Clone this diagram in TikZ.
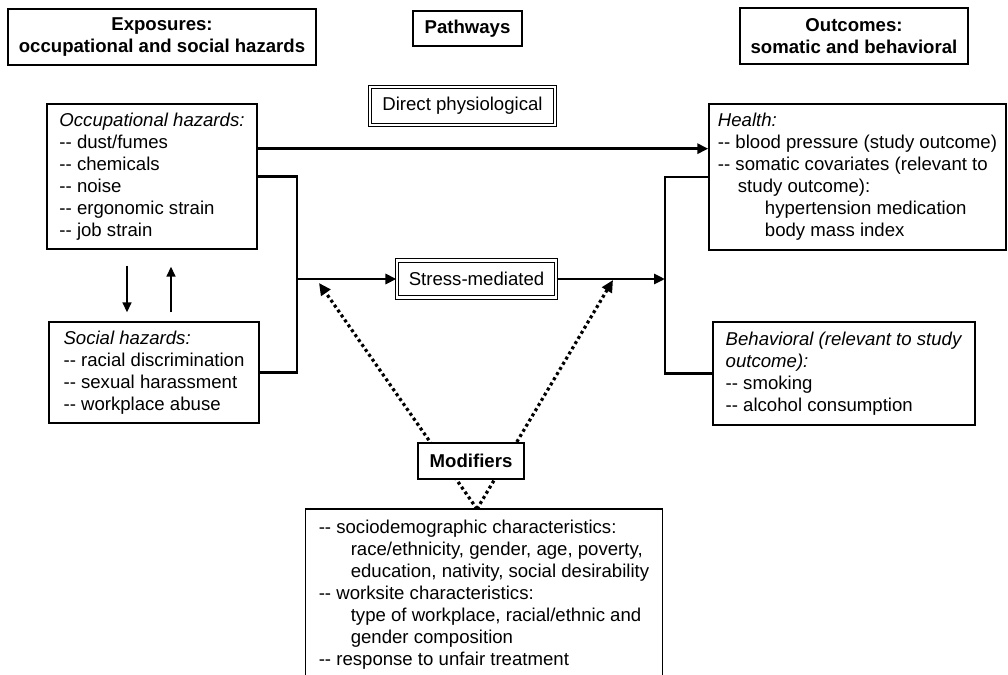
\documentclass[tikz,border=0pt]{standalone}
\usepackage{fontspec}
\setmainfont{Liberation Sans}
\usepackage{tikz}
\usetikzlibrary{arrows.meta,calc}
\definecolor{ink}{HTML}{000000}
\definecolor{paper}{HTML}{FFFFFF}
\newcommand{\boxfont}{\fontsize{9.3}{11}\selectfont}
\newcommand{\itm}{-{}-\ }
\tikzset{
  headbox/.style={draw=ink, fill=paper, line width=0.7pt, align=center, inner sep=0pt,
                  font=\boxfont\bfseries},
  listbox/.style={draw=ink, fill=paper, line width=0.7pt, align=left, inner sep=0pt,
                  font=\boxfont},
  pathbox/.style={draw=ink, double=paper, double distance=1.1pt, line width=0.55pt,
                  inner sep=0pt, font=\boxfont},
  link/.style={draw=ink, line width=1.4pt},
  arrow/.style={link, -{Triangle[length=5.5pt,width=5pt]}},
  exchange/.style={draw=ink, line width=0.8pt, -{Triangle[length=5pt,width=4.5pt]}},
  dotarrow/.style={draw=ink, line width=1.6pt, dash pattern=on 1.5pt off 1.5pt,
                   -{Triangle[length=6pt,width=5.5pt]}}
}

\begin{document}
\begin{tikzpicture}[x=0.5pt,y=-0.5pt]
  \useasboundingbox (0,0) rectangle (1008,675);
  % column headings
  \node[headbox, minimum width=154pt, minimum height=28pt] (expo) at (162,37) {Exposures:\\occupational and social hazards};
  \node[headbox, minimum width=54.5pt, minimum height=17.5pt] (paths) at (467.5,28.5) {Pathways};
  \node[headbox, minimum width=114pt, minimum height=28pt] (outc) at (854,36) {Outcomes:\\somatic and behavioral};

  % exposures
  \node[listbox, minimum width=105pt, minimum height=72.5pt] (occ) at (152,176.5)
    {\textit{Occupational hazards:}\\\itm dust/fumes\\\itm chemicals\\\itm noise\\\itm ergonomic strain\\\itm job strain};
  \node[listbox, minimum width=105pt, minimum height=50.5pt] (social) at (154,372.5)
    {\textit{Social hazards:}\\\itm racial discrimination\\\itm sexual harassment\\\itm workplace abuse};

  % pathways
  \node[pathbox, minimum width=92.5pt, minimum height=19pt] (direct) at (462.5,106) {Direct physiological};
  \node[pathbox, minimum width=79.5pt, minimum height=18.5pt] (stress) at (476.5,279) {Stress-mediated};

  % outcomes
  \node[listbox, minimum width=148.5pt, minimum height=73pt] (health) at (857.5,177)
    {\textit{Health:}\\\itm blood pressure (study outcome)\\\itm somatic covariates (relevant to\\\hspace*{10pt}study outcome):\\\hspace*{23.5pt}hypertension medication\\\hspace*{23.5pt}body mass index};
  \node[listbox, minimum width=131pt, minimum height=51.5pt] (behav) at (844,373.5)
    {\textit{Behavioral (relevant to study}\\\textit{outcome):}\\\itm smoking\\\itm alcohol consumption};

  % modifier list, cut by the page edge
  \begin{scope}
    \clip (0,0) rectangle (1008,675);
    \node[listbox, draw=none, fill=none, anchor=north, minimum width=178pt, inner ysep=5pt] (modlist) at (484,509)
      {\itm sociodemographic characteristics:\\\hspace*{16pt}race/ethnicity, gender, age, poverty,\\\hspace*{16pt}education, nativity, social desirability\\\itm worksite characteristics:\\\hspace*{16pt}type of workplace, racial/ethnic and\\\hspace*{16pt}gender composition\\\itm response to unfair treatment};
    \draw[draw=ink, line width=0.7pt] ([yshift=-20pt]modlist.south west) |- (modlist.north east) -- ([yshift=-20pt]modlist.south east);
  \end{scope}

  % junctions
  \coordinate (jl) at (297,279);
  \coordinate (jr) at (665,279);
  \coordinate (dirL) at ($(occ.north east)!0.31!(occ.south east)$);
  \coordinate (apex) at ([shift={(-7,0)}]modlist.north);
  \coordinate (modL) at (319,283);
  \coordinate (modR) at (613,280);

  \draw[arrow] (dirL) -- (dirL -| health.west);
  \draw[link] (occ.east) -| (jl) |- (social.east);
  \draw[arrow] (jl) -- (stress.west);
  \draw[arrow] (stress.east) -- (jr);
  \draw[link] (health.west) -| (jr) |- (behav.west);

  \draw[exchange] ([shift={(-25,16)}]occ.south) -- ([shift={(-27,-9)}]social.north);
  \draw[exchange] ([shift={(17,-9)}]social.north) -- ([shift={(19,17)}]occ.south);

  \draw[dotarrow] (apex) -- (modL);
  \draw[dotarrow] (apex) -- (modR);
  \node[headbox, minimum width=53pt, minimum height=18pt] (mods) at (471,461) {Modifiers};
\end{tikzpicture}
\end{document}
